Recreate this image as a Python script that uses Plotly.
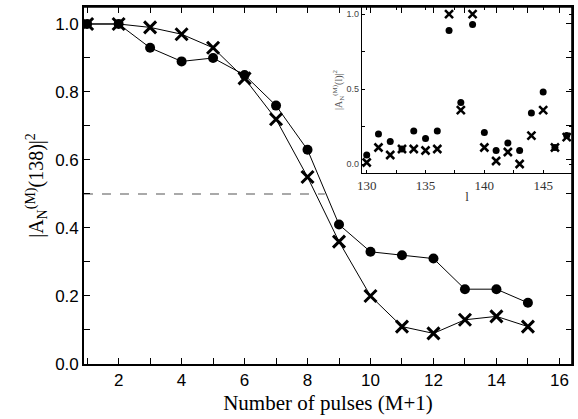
import plotly.graph_objects as go

# Main panel data
pulses = list(range(1, 16))
circ_main = [1.0, 1.0, 0.93, 0.89, 0.90, 0.85, 0.76, 0.63, 0.41, 0.33, 0.32, 0.31, 0.22, 0.22, 0.18]
cross_main = [1.0, 1.0, 0.99, 0.97, 0.93, 0.84, 0.72, 0.55, 0.36, 0.20, 0.11, 0.09, 0.13, 0.14, 0.11]

# Inset data
sites = list(range(130, 148))
circ_inset = [0.06, 0.20, 0.15, 0.10, 0.22, 0.17, 0.22, 0.89, 0.41, 0.93, 0.21, 0.09, 0.14, 0.09, 0.34, 0.48, 0.11, 0.19]
cross_inset = [0.01, 0.11, 0.06, 0.10, 0.10, 0.09, 0.10, 1.00, 0.36, 1.00, 0.11, 0.02, 0.08, 0.00, 0.19, 0.36, 0.11, 0.18]

half_x = [0.9, 8.55]
half_y = [0.5, 0.5]

# Tick labels
main_xticks = list(range(1, 17))
main_xlabels = [str(v) if v % 2 == 0 else "" for v in main_xticks]
main_yticks = [round(0.1 * i, 1) for i in range(11)]
main_ylabels = [f"{v:.1f}" if i % 2 == 0 else "" for i, v in enumerate(main_yticks)]
inset_xticks = [130, 132.5, 135, 137.5, 140, 142.5, 145, 147.5]
inset_xlabels = ["130", "", "135", "", "140", "", "145", ""]
inset_yticks = [0, 0.25, 0.5, 0.75, 1.0]
inset_ylabels = ["0.0", "", "0.5", "", "1.0"]

fig = go.Figure()
fig.add_trace(go.Scatter(x=half_x, y=half_y, mode="lines",
                         line=dict(color="#555555", width=1.2, dash="dash"),
                         xaxis="x", yaxis="y", showlegend=False))
fig.add_trace(go.Scatter(x=pulses, y=circ_main, mode="lines+markers",
                         line=dict(color="black", width=1),
                         marker=dict(symbol="circle", size=10, color="black"),
                         xaxis="x", yaxis="y", showlegend=False))
fig.add_trace(go.Scatter(x=pulses, y=cross_main, mode="lines+markers",
                         line=dict(color="black", width=1),
                         marker=dict(symbol="x-thin", size=12, color="black",
                                     line=dict(color="black", width=3)),
                         xaxis="x", yaxis="y", showlegend=False))
fig.add_trace(go.Scatter(x=sites, y=circ_inset, mode="markers",
                         marker=dict(symbol="circle", size=7, color="black"),
                         xaxis="x2", yaxis="y2", showlegend=False, cliponaxis=False))
fig.add_trace(go.Scatter(x=sites, y=cross_inset, mode="markers",
                         marker=dict(symbol="x-thin", size=8, color="black",
                                     line=dict(color="black", width=2.5)),
                         xaxis="x2", yaxis="y2", showlegend=False, cliponaxis=False))

sans = "Liberation Sans, Arial, sans-serif"
serif = "Liberation Serif, Times New Roman, serif"

axis_common = dict(showgrid=False, zeroline=False, showline=True, linecolor="black",
                   mirror="ticks", ticks="inside", tickcolor="black",
                   automargin=False, tickmode="array")

XD = [0.1453, 0.9896]
YD = [0.1313, 0.9833]

fig.update_layout(
    width=578, height=419,
    margin=dict(l=0, r=0, t=0, b=0),
    paper_bgcolor="white", plot_bgcolor="rgba(0,0,0,0)",
    xaxis=dict(axis_common, domain=XD, range=[0.9, 16.4], linewidth=1.6,
               tickvals=main_xticks, ticktext=main_xlabels, ticklen=6, tickwidth=1.2,
               tickfont=dict(family=sans, size=17, color="black"),
               title=dict(text="Number of pulses (M+1)", standoff=6,
                          font=dict(family=serif, size=21, color="black"))),
    yaxis=dict(axis_common, domain=YD, range=[0, 1.05], linewidth=1.6,
               tickvals=main_yticks, ticktext=main_ylabels, ticklen=6, tickwidth=1.2,
               tickfont=dict(family=sans, size=17, color="black"),
               title=dict(text="|A<sub>N</sub><sup>(M)</sup>(138)|<sup>2</sup>", standoff=6,
                          font=dict(family=serif, size=20, color="black"))),
    xaxis2=dict(axis_common, anchor="y2", domain=[0.6263, XD[1]], range=[129.6, 147.45],
                linewidth=1.2,
                tickvals=inset_xticks, ticktext=inset_xlabels, ticklen=3, tickwidth=1,
                tickfont=dict(family=serif, size=13, color="#333333"),
                title=dict(text="l", standoff=0, font=dict(family=serif, size=13, color="#333333"))),
    yaxis2=dict(axis_common, anchor="x2", domain=[0.5871, YD[1]], range=[-0.06, 1.047],
                linewidth=1.2,
                tickvals=inset_yticks, ticktext=inset_ylabels, ticklen=3, tickwidth=1,
                tickfont=dict(family=sans, size=9, color="#444444"),
                title=dict(text="|A<sub>N</sub><sup>(M)</sup>(l)|<sup>2</sup>", standoff=2,
                           font=dict(family=serif, size=10, color="#555555"))),
    shapes=[
        dict(type="line", xref="paper", yref="paper", x0=XD[0], x1=XD[1], y0=YD[1], y1=YD[1],
             line=dict(color="black", width=1.6)),
        dict(type="line", xref="paper", yref="paper", x0=XD[1], x1=XD[1], y0=YD[0], y1=YD[1],
             line=dict(color="black", width=1.6)),
    ],
)

fig.write_html("out.html", config={"displayModeBar": False},
               post_script="document.body.style.margin='0';document.body.style.overflow='hidden';")
